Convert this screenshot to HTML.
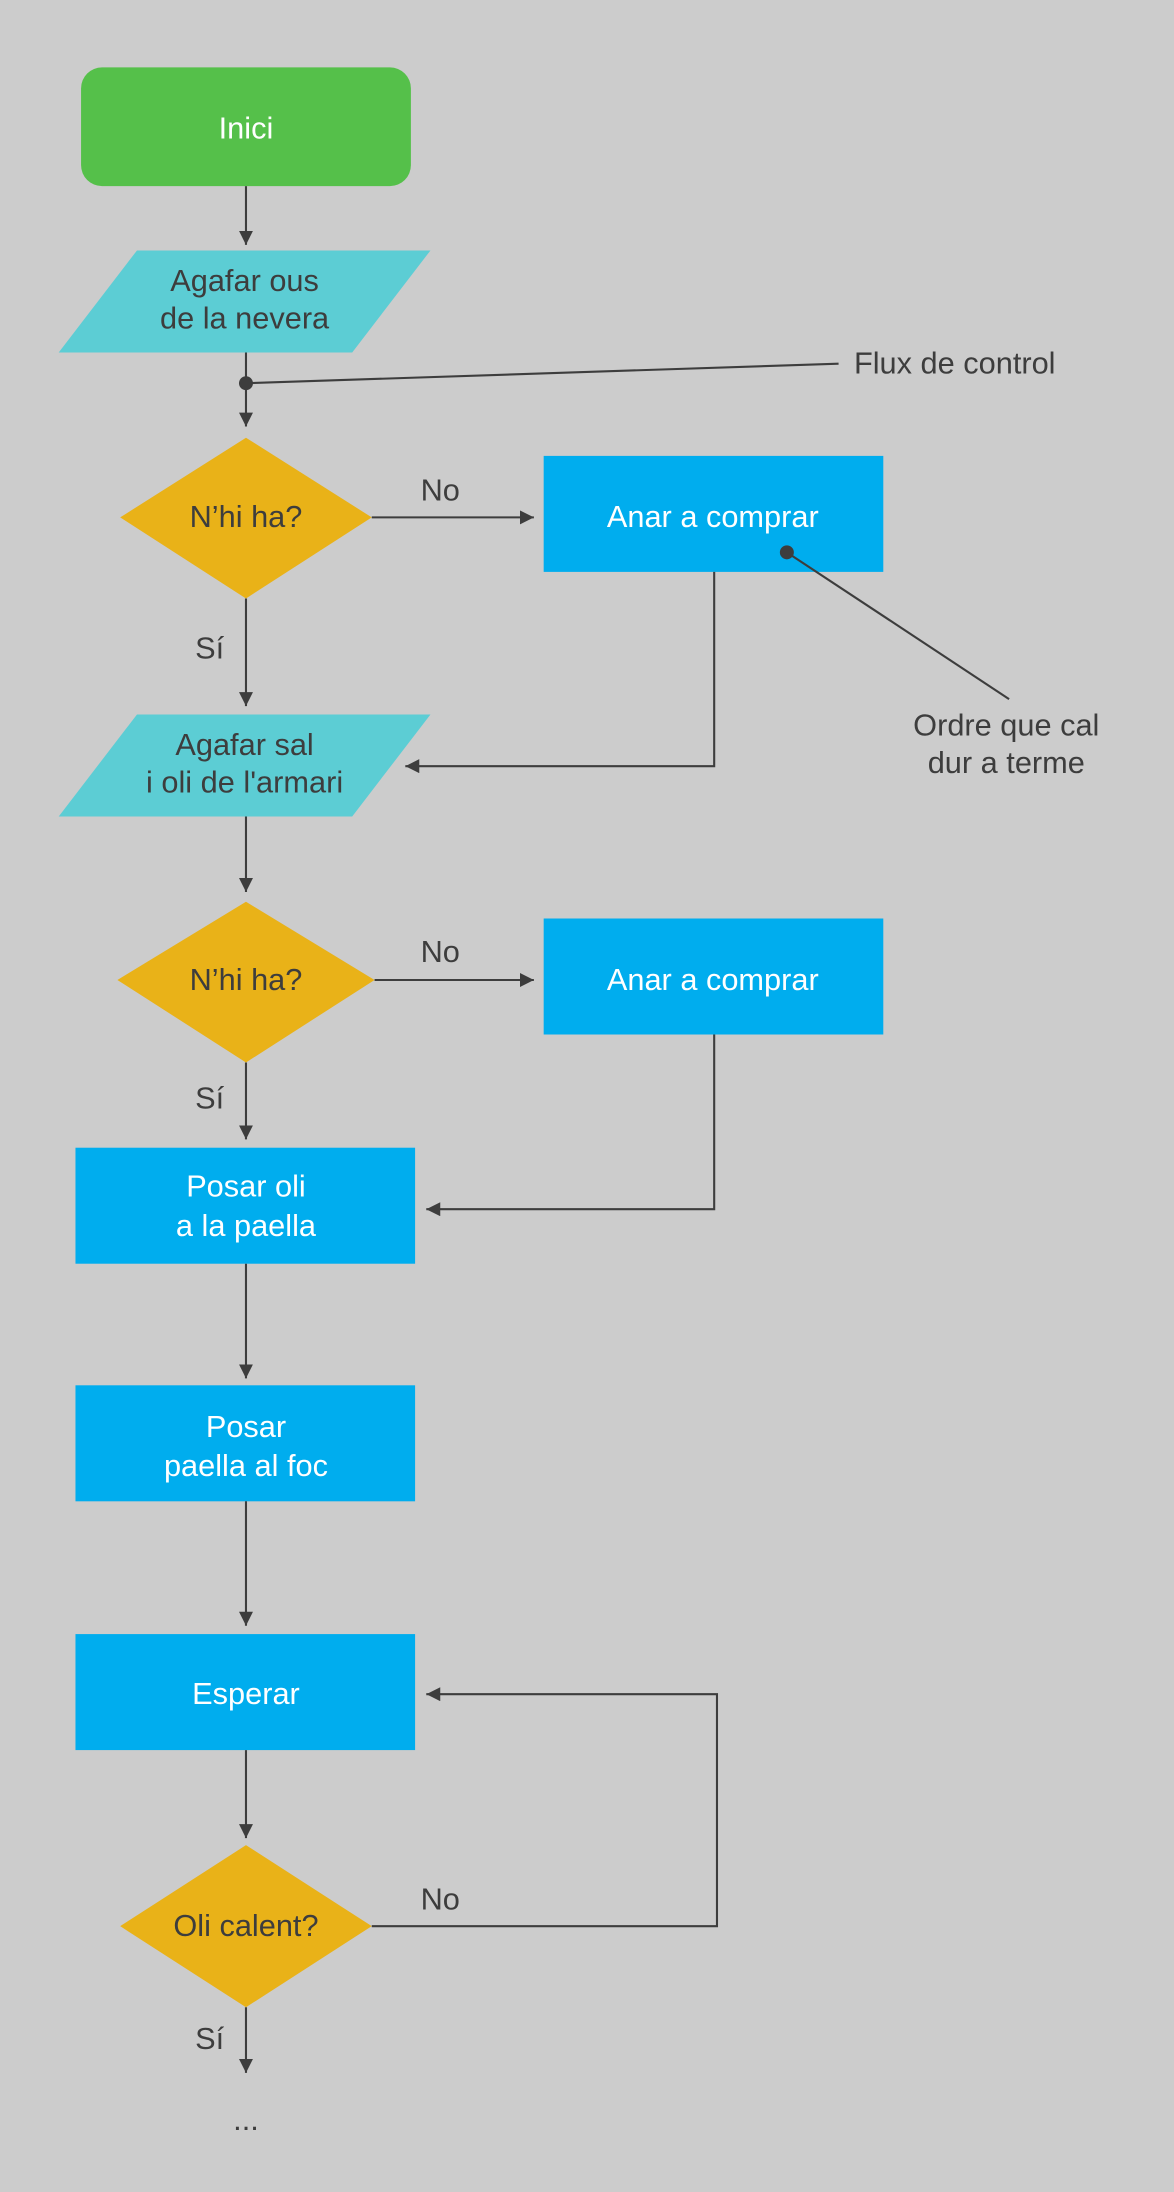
<!DOCTYPE html>
<html><head><meta charset="utf-8"><style>
html,body{margin:0;padding:0;background:#cccccc;}
svg{display:block;}
text{font-family:"Liberation Sans",sans-serif;font-size:22px;}
</style></head><body>
<svg width="1174" height="2192" viewBox="0 0 840 1568" xmlns="http://www.w3.org/2000/svg">
<defs>
<marker id="a" viewBox="0 0 10 10" refX="10" refY="5" markerWidth="10" markerHeight="10" markerUnits="userSpaceOnUse" orient="auto"><path d="M0,0 L10,5 L0,10 z" fill="#3d3d3d"/></marker>
</defs>
<rect width="840" height="1568" fill="#cccccc"/>

<rect x="58" y="48" width="236" height="85" rx="15" fill="#55c04a"/>
<polygon points="98,179 308,179 252,252 42,252" fill="#5ccdd4"/>
<polygon points="176,313 266,370 176,428 86,370" fill="#e9b218"/>
<rect x="389" y="326" width="243" height="83" fill="#00adee"/>
<polygon points="98,511 308,511 252,584 42,584" fill="#5ccdd4"/>
<polygon points="176,645 268,701 176,760 84,701" fill="#e9b218"/>
<rect x="389" y="657" width="243" height="83" fill="#00adee"/>
<rect x="54" y="821" width="243" height="83" fill="#00adee"/>
<rect x="54" y="991" width="243" height="83" fill="#00adee"/>
<rect x="54" y="1169" width="243" height="83" fill="#00adee"/>
<polygon points="176,1320 266,1378 176,1436 86,1378" fill="#e9b218"/>

<g stroke="#3d3d3d" stroke-width="1.5" fill="none">
<line x1="176" y1="133" x2="176" y2="175" marker-end="url(#a)"/>
<line x1="176" y1="252" x2="176" y2="305" marker-end="url(#a)"/>
<line x1="176" y1="274" x2="600" y2="260"/>
<line x1="266" y1="370" x2="382" y2="370" marker-end="url(#a)"/>
<line x1="563" y1="395" x2="722" y2="500"/>
<line x1="176" y1="428" x2="176" y2="505" marker-end="url(#a)"/>
<polyline points="511,409 511,548 290,548" marker-end="url(#a)"/>
<line x1="176" y1="584" x2="176" y2="638" marker-end="url(#a)"/>
<line x1="268" y1="701" x2="382" y2="701" marker-end="url(#a)"/>
<polyline points="511,740 511,865 305,865" marker-end="url(#a)"/>
<line x1="176" y1="760" x2="176" y2="815" marker-end="url(#a)"/>
<line x1="176" y1="904" x2="176" y2="986" marker-end="url(#a)"/>
<line x1="176" y1="1074" x2="176" y2="1163" marker-end="url(#a)"/>
<line x1="176" y1="1252" x2="176" y2="1315" marker-end="url(#a)"/>
<polyline points="266,1378 513,1378 513,1212 305,1212" marker-end="url(#a)"/>
<line x1="176" y1="1436" x2="176" y2="1483" marker-end="url(#a)"/>
</g>
<circle cx="176" cy="274" r="5" fill="#3d3d3d"/>
<circle cx="563" cy="395" r="5" fill="#3d3d3d"/>

<g fill="#ffffff" text-anchor="middle">
<text x="176" y="99">Inici</text>
<text x="510" y="377">Anar a comprar</text>
<text x="510" y="708">Anar a comprar</text>
<text x="176" y="856">Posar oli</text>
<text x="176" y="884">a la paella</text>
<text x="176" y="1028">Posar</text>
<text x="176" y="1056">paella al foc</text>
<text x="176" y="1219">Esperar</text>
</g>
<g fill="#3d3d3d" text-anchor="middle">
<text x="175" y="208">Agafar ous</text>
<text x="175" y="235">de la nevera</text>
<text x="176" y="377">N’hi ha?</text>
<text x="175" y="540">Agafar sal</text>
<text x="175" y="567">i oli de l'armari</text>
<text x="176" y="708">N’hi ha?</text>
<text x="176" y="1385">Oli calent?</text>
<text x="315" y="358">No</text>
<text x="315" y="688">No</text>
<text x="315" y="1366">No</text>
<text x="150" y="471">Sí</text>
<text x="150" y="793">Sí</text>
<text x="150" y="1466">Sí</text>
<text x="176" y="1524">...</text>
<text x="720" y="526">Ordre que cal</text>
<text x="720" y="553">dur a terme</text>
</g>
<text x="611" y="267" fill="#3d3d3d">Flux de control</text>
</svg>
</body></html>
